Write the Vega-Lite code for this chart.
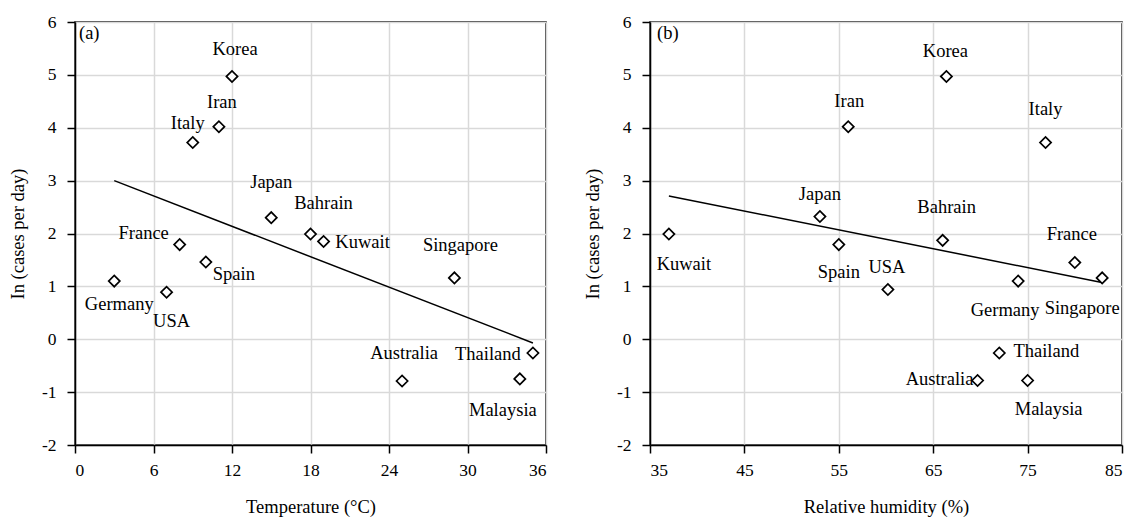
{
  "$schema": "https://vega.github.io/schema/vega-lite/v6.json",
  "autosize": {"type": "pad"},
  "padding": {"left": 7, "top": 12, "right": 0, "bottom": 0},
  "background": "white",
  "config": {
    "font": "Liberation Serif",
    "view": {"stroke": "black", "strokeWidth": 1.5},
    "axis": {
      "labelFont": "Liberation Serif", "titleFont": "Liberation Serif",
      "labelFontSize": 17.5, "titleFontSize": 18.5, "labelColor": "black", "titleColor": "black",
      "titleFontWeight": "normal", "domainColor": "black", "domainWidth": 1.5,
      "tickColor": "black", "tickWidth": 1.5, "tickSize": 8, "labelPadding": 11,
      "gridColor": "#d9d9d9", "gridWidth": 1.5,
      "labelExpr": "datum.value < 0 ? '-' + abs(datum.value) : '' + datum.value"
    },
    "axisX": {"labelPadding": 8, "titlePadding": 19},
    "axisY": {"labelPadding": 11, "titlePadding": 14},
    "text": {"font": "Liberation Serif", "fontSize": 18.5, "color": "black"}
  },
  "datasets": {
    "temp": [
      {"country": "Korea", "temperature": 12, "lncases": 4.97},
      {"country": "Iran", "temperature": 11, "lncases": 4.02},
      {"country": "Italy", "temperature": 9, "lncases": 3.72},
      {"country": "Japan", "temperature": 15, "lncases": 2.3},
      {"country": "Bahrain", "temperature": 18, "lncases": 1.99},
      {"country": "Kuwait", "temperature": 19, "lncases": 1.85},
      {"country": "France", "temperature": 8, "lncases": 1.79},
      {"country": "Spain", "temperature": 10, "lncases": 1.46},
      {"country": "Germany", "temperature": 3, "lncases": 1.1},
      {"country": "USA", "temperature": 7, "lncases": 0.89},
      {"country": "Singapore", "temperature": 29, "lncases": 1.16},
      {"country": "Australia", "temperature": 25, "lncases": -0.79},
      {"country": "Thailand", "temperature": 35, "lncases": -0.26},
      {"country": "Malaysia", "temperature": 34, "lncases": -0.75}
    ],
    "tempTrend": [
      {"temperature": 3, "lncases": 3.0},
      {"temperature": 35, "lncases": -0.07}
    ],
    "hum": [
      {"country": "Kuwait", "humidity": 37, "lncases": 1.99},
      {"country": "Japan", "humidity": 53, "lncases": 2.32},
      {"country": "Spain", "humidity": 55, "lncases": 1.79},
      {"country": "Iran", "humidity": 56, "lncases": 4.02},
      {"country": "USA", "humidity": 60.2, "lncases": 0.94},
      {"country": "Korea", "humidity": 66.4, "lncases": 4.97},
      {"country": "Italy", "humidity": 76.9, "lncases": 3.72},
      {"country": "Bahrain", "humidity": 66, "lncases": 1.87},
      {"country": "France", "humidity": 80, "lncases": 1.45},
      {"country": "Germany", "humidity": 74, "lncases": 1.1},
      {"country": "Singapore", "humidity": 82.9, "lncases": 1.16},
      {"country": "Thailand", "humidity": 72, "lncases": -0.26},
      {"country": "Australia", "humidity": 69.7, "lncases": -0.78},
      {"country": "Malaysia", "humidity": 75, "lncases": -0.78}
    ],
    "humTrend": [
      {"humidity": 37, "lncases": 2.71},
      {"humidity": 83, "lncases": 1.07}
    ]
  },
  "hconcat": [
    {
      "width": 471, "height": 423,
      "encoding": {
        "x": {"field": "temperature", "type": "quantitative", "title": "Temperature (°C)",
              "scale": {"domain": [0, 36], "nice": false, "zero": false},
              "axis": {"values": [0, 6, 12, 18, 24, 30, 36]}},
        "y": {"field": "lncases", "type": "quantitative", "title": "In (cases per day)",
              "scale": {"domain": [-2, 6], "nice": false},
              "axis": {"values": [-2, -1, 0, 1, 2, 3, 4, 5, 6]}}
      },
      "layer": [
        {"data": {"name": "tempTrend"}, "mark": {"type": "line", "color": "black", "strokeWidth": 1.5}},
        {"data": {"name": "temp"}, "mark": {"type": "point", "shape": "diamond", "size": 125, "filled": true, "fill": "white", "stroke": "black", "strokeWidth": 1.7, "opacity": 1}},
        {"data": {"name": "temp"}, "transform": [{"filter": "datum.country == 'Korea'"}], "mark": {"type": "text", "dx": 3, "dy": -27}, "encoding": {"text": {"field": "country"}}},
        {"data": {"name": "temp"}, "transform": [{"filter": "datum.country == 'Iran'"}], "mark": {"type": "text", "dx": 3, "dy": -25}, "encoding": {"text": {"field": "country"}}},
        {"data": {"name": "temp"}, "transform": [{"filter": "datum.country == 'Italy'"}], "mark": {"type": "text", "dx": -5, "dy": -20}, "encoding": {"text": {"field": "country"}}},
        {"data": {"name": "temp"}, "transform": [{"filter": "datum.country == 'Japan'"}], "mark": {"type": "text", "dx": 0, "dy": -36}, "encoding": {"text": {"field": "country"}}},
        {"data": {"name": "temp"}, "transform": [{"filter": "datum.country == 'Bahrain'"}], "mark": {"type": "text", "dx": 13, "dy": -31}, "encoding": {"text": {"field": "country"}}},
        {"data": {"name": "temp"}, "transform": [{"filter": "datum.country == 'Kuwait'"}], "mark": {"type": "text", "dx": 39, "dy": 1}, "encoding": {"text": {"field": "country"}}},
        {"data": {"name": "temp"}, "transform": [{"filter": "datum.country == 'Singapore'"}], "mark": {"type": "text", "dx": 6, "dy": -33}, "encoding": {"text": {"field": "country"}}},
        {"data": {"name": "temp"}, "transform": [{"filter": "datum.country == 'France'"}], "mark": {"type": "text", "dx": -36, "dy": -12}, "encoding": {"text": {"field": "country"}}},
        {"data": {"name": "temp"}, "transform": [{"filter": "datum.country == 'Spain'"}], "mark": {"type": "text", "dx": 28, "dy": 12}, "encoding": {"text": {"field": "country"}}},
        {"data": {"name": "temp"}, "transform": [{"filter": "datum.country == 'Germany'"}], "mark": {"type": "text", "dx": 5, "dy": 23}, "encoding": {"text": {"field": "country"}}},
        {"data": {"name": "temp"}, "transform": [{"filter": "datum.country == 'USA'"}], "mark": {"type": "text", "dx": 5, "dy": 29}, "encoding": {"text": {"field": "country"}}},
        {"data": {"name": "temp"}, "transform": [{"filter": "datum.country == 'Australia'"}], "mark": {"type": "text", "dx": 2, "dy": -28}, "encoding": {"text": {"field": "country"}}},
        {"data": {"name": "temp"}, "transform": [{"filter": "datum.country == 'Thailand'"}], "mark": {"type": "text", "dx": -45, "dy": 1}, "encoding": {"text": {"field": "country"}}},
        {"data": {"name": "temp"}, "transform": [{"filter": "datum.country == 'Malaysia'"}], "mark": {"type": "text", "dx": -17, "dy": 31}, "encoding": {"text": {"field": "country"}}},
        {"data": {"values": [{"t": "(a)", "temperature": 0, "lncases": 6}]}, "mark": {"type": "text", "align": "left", "baseline": "middle", "dx": 4, "dy": 11},
         "encoding": {"text": {"field": "t"}}}
      ]
    },
    {
      "width": 472, "height": 423,
      "encoding": {
        "x": {"field": "humidity", "type": "quantitative", "title": "Relative humidity (%)",
              "scale": {"domain": [35, 85], "nice": false, "zero": false},
              "axis": {"values": [35, 45, 55, 65, 75, 85]}},
        "y": {"field": "lncases", "type": "quantitative", "title": "In (cases per day)",
              "scale": {"domain": [-2, 6], "nice": false},
              "axis": {"values": [-2, -1, 0, 1, 2, 3, 4, 5, 6]}}
      },
      "layer": [
        {"data": {"name": "humTrend"}, "mark": {"type": "line", "color": "black", "strokeWidth": 1.5}},
        {"data": {"name": "hum"}, "mark": {"type": "point", "shape": "diamond", "size": 125, "filled": true, "fill": "white", "stroke": "black", "strokeWidth": 1.7, "opacity": 1}},
        {"data": {"name": "hum"}, "transform": [{"filter": "datum.country == 'Kuwait'"}], "mark": {"type": "text", "dx": 15, "dy": 30}, "encoding": {"text": {"field": "country"}}},
        {"data": {"name": "hum"}, "transform": [{"filter": "datum.country == 'Japan'"}], "mark": {"type": "text", "dx": 0, "dy": -23}, "encoding": {"text": {"field": "country"}}},
        {"data": {"name": "hum"}, "transform": [{"filter": "datum.country == 'Iran'"}], "mark": {"type": "text", "dx": 1, "dy": -26}, "encoding": {"text": {"field": "country"}}},
        {"data": {"name": "hum"}, "transform": [{"filter": "datum.country == 'Korea'"}], "mark": {"type": "text", "dx": -1, "dy": -25}, "encoding": {"text": {"field": "country"}}},
        {"data": {"name": "hum"}, "transform": [{"filter": "datum.country == 'Italy'"}], "mark": {"type": "text", "dx": 0, "dy": -34}, "encoding": {"text": {"field": "country"}}},
        {"data": {"name": "hum"}, "transform": [{"filter": "datum.country == 'Bahrain'"}], "mark": {"type": "text", "dx": 4, "dy": -33}, "encoding": {"text": {"field": "country"}}},
        {"data": {"name": "hum"}, "transform": [{"filter": "datum.country == 'France'"}], "mark": {"type": "text", "dx": -3, "dy": -29}, "encoding": {"text": {"field": "country"}}},
        {"data": {"name": "hum"}, "transform": [{"filter": "datum.country == 'Spain'"}], "mark": {"type": "text", "dx": 0, "dy": 27}, "encoding": {"text": {"field": "country"}}},
        {"data": {"name": "hum"}, "transform": [{"filter": "datum.country == 'USA'"}], "mark": {"type": "text", "dx": -1, "dy": -23}, "encoding": {"text": {"field": "country"}}},
        {"data": {"name": "hum"}, "transform": [{"filter": "datum.country == 'Germany'"}], "mark": {"type": "text", "dx": -13, "dy": 29}, "encoding": {"text": {"field": "country"}}},
        {"data": {"name": "hum"}, "transform": [{"filter": "datum.country == 'Singapore'"}], "mark": {"type": "text", "dx": -20, "dy": 30}, "encoding": {"text": {"field": "country"}}},
        {"data": {"name": "hum"}, "transform": [{"filter": "datum.country == 'Thailand'"}], "mark": {"type": "text", "dx": 47, "dy": -2}, "encoding": {"text": {"field": "country"}}},
        {"data": {"name": "hum"}, "transform": [{"filter": "datum.country == 'Australia'"}], "mark": {"type": "text", "dx": -38, "dy": -1}, "encoding": {"text": {"field": "country"}}},
        {"data": {"name": "hum"}, "transform": [{"filter": "datum.country == 'Malaysia'"}], "mark": {"type": "text", "dx": 21, "dy": 29}, "encoding": {"text": {"field": "country"}}},
        {"data": {"values": [{"t": "(b)", "humidity": 35, "lncases": 6}]}, "mark": {"type": "text", "align": "left", "baseline": "middle", "dx": 7, "dy": 11},
         "encoding": {"text": {"field": "t"}}}
      ]
    }
  ],
  "spacing": 104,
  "bounds": "flush"
}
